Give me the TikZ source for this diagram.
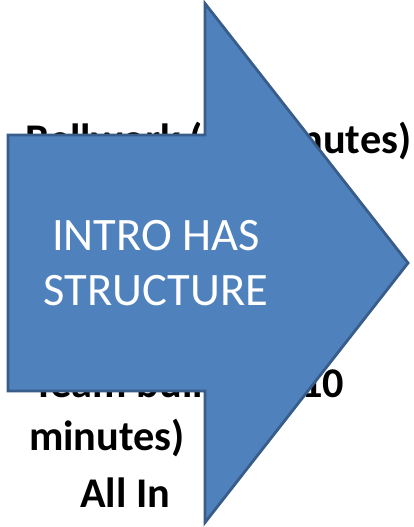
\documentclass[tikz,border=0pt]{standalone}
\usepackage{fontspec}
\newfontfamily\carlito{Carlito}
\definecolor{arrowfill}{HTML}{4F81BD}
\definecolor{arrowline}{HTML}{385D8A}
\begin{document}
\begin{tikzpicture}[x=1pt,y=-1pt,
  bgtext/.style={inner sep=0pt,anchor=base west,font=\carlito\bfseries\fontsize{42.3}{50}\selectfont,text=black},
  arrowtext/.style={inner sep=0pt,anchor=base,font=\carlito\fontsize{46.5}{55}\selectfont,text=white}]
\useasboundingbox (0,0) rectangle (414,527);
\fill[white] (0,0) rectangle (414,527);
% text behind the arrow
\node[bgtext,anchor=base east] (bell) at (411.5,153) {Bellwork (10 minutes)};
\node[bgtext] (team) at (33,397) {Team building (10};
\node[bgtext] (mins) at (29,450) {minutes)};
\node[bgtext] (allin) at (80,507) {All In};
% the arrow
\draw[fill=arrowfill,draw=arrowline,line width=2.8pt,line join=miter]
  (8,135) -- (205,135) -- (205,3.5) -- (408,263) -- (205,522.5) -- (205,391) -- (8,391) -- cycle;
\node[arrowtext] (l1) at (156,250) {INTRO HAS};
\node[arrowtext] (l2) at (156,305) {STRUCTURE};
\end{tikzpicture}
\end{document}
